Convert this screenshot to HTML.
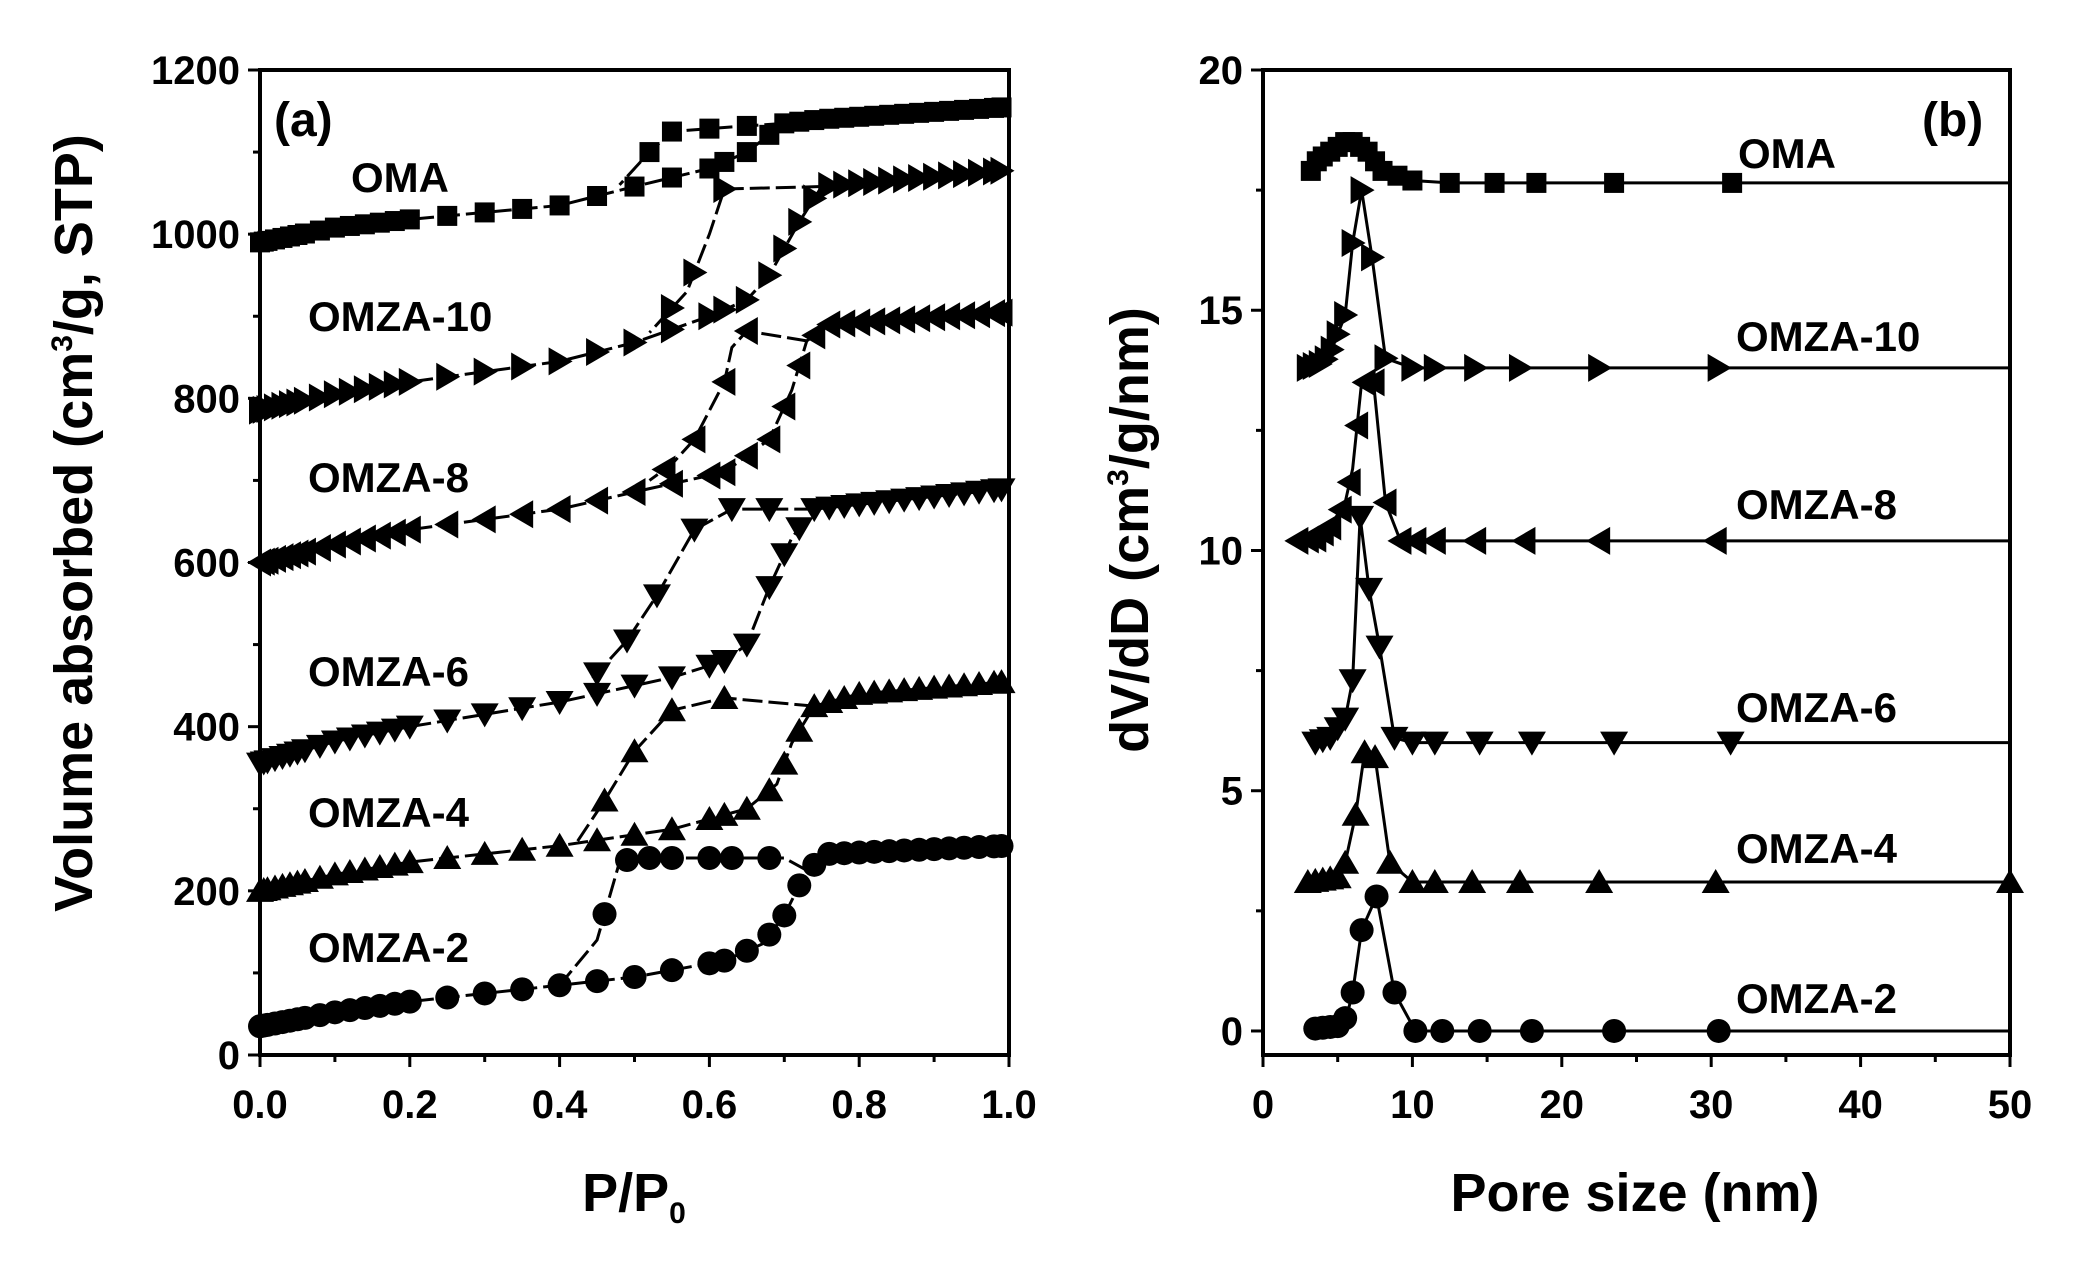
<!DOCTYPE html>
<html><head><meta charset="utf-8"><style>
html,body{margin:0;padding:0;background:#fff;}
svg{display:block;}
text{font-family:"Liberation Sans",Arial,sans-serif;font-weight:bold;fill:#000;}
</style></head><body>
<svg id="s" width="2076" height="1264" viewBox="0 0 2076 1264" xmlns="http://www.w3.org/2000/svg">
<g font-size="42">
<text x="351" y="192">OMA</text>
<text x="308" y="331">OMZA-10</text>
<text x="308" y="492">OMZA-8</text>
<text x="308" y="686">OMZA-6</text>
<text x="308" y="827">OMZA-4</text>
<text x="308" y="962">OMZA-2</text>
<text x="1738" y="168">OMA</text>
<text x="1736" y="351">OMZA-10</text>
<text x="1736" y="519">OMZA-8</text>
<text x="1736" y="722">OMZA-6</text>
<text x="1736" y="863">OMZA-4</text>
<text x="1736" y="1013">OMZA-2</text>
</g>
<text x="274" y="136" font-size="48">(a)</text>
<text x="1922" y="136" font-size="48">(b)</text>
<text x="634" y="1211" font-size="54" text-anchor="middle">P/P<tspan font-size="30" dy="12">0</tspan></text>
<text x="1635" y="1211" font-size="54" text-anchor="middle">Pore size (nm)</text>
<text transform="translate(92,523) rotate(-90)" font-size="54" text-anchor="middle">Volume absorbed (cm<tspan font-size="30" dy="-20">3</tspan><tspan dy="20">/g, STP)</tspan></text>
<text transform="translate(1148,530) rotate(-90)" font-size="54" text-anchor="middle">dV/dD (cm<tspan font-size="30" dy="-20">3</tspan><tspan dy="20">/g/nm)</tspan></text>
</svg>
<script>
var s=document.getElementById('s'),NS='http://www.w3.org/2000/svg';
function el(t,a){var e=document.createElementNS(NS,t);for(var k in a)e.setAttribute(k,a[k]);s.appendChild(e);return e;}
function txt(x,y,t,anc){var e=el('text',{x:x,y:y,'font-size':40,'text-anchor':anc});e.textContent=t;}
var A={x0:260,x1:1009,y0:1055,y1:70,xmin:0,xmax:1,ymin:0,ymax:1200};
var B={x0:1263,x1:2010,y0:1055,y1:70,xmin:0,xmax:50,ymin:-0.5,ymax:20};
function X(P,v){return P.x0+(v-P.xmin)/(P.xmax-P.xmin)*(P.x1-P.x0);}
function Y(P,v){return P.y0+(v-P.ymin)/(P.ymax-P.ymin)*(P.y1-P.y0);}
function frame(P){el('rect',{x:P.x0,y:P.y1,width:P.x1-P.x0,height:P.y0-P.y1,fill:'none',stroke:'#000','stroke-width':4});}
frame(A);frame(B);
for(var v=0;v<=1200;v+=100){var y=Y(A,v);el('line',{x1:A.x0,x2:A.x0-(v%200?7:12),y1:y,y2:y,stroke:'#000','stroke-width':3});if(v%200==0)txt(240,y+14,String(v),'end');}
for(var i=0;i<=10;i++){var v=i/10,x=X(A,v);el('line',{x1:x,x2:x,y1:A.y0,y2:A.y0+(i%2?7:12),stroke:'#000','stroke-width':3});if(i%2==0)txt(x,1118,v.toFixed(1),'middle');}
for(var v=0;v<=20;v+=2.5){var y=Y(B,v);el('line',{x1:B.x0,x2:B.x0-(v%5?7:12),y1:y,y2:y,stroke:'#000','stroke-width':3});if(v%5==0)txt(1243,y+14,String(v),'end');}
for(var v=0;v<=50;v+=5){var x=X(B,v);el('line',{x1:x,x2:x,y1:B.y0,y2:B.y0+(v%10?7:12),stroke:'#000','stroke-width':3});if(v%10==0)txt(x,1118,String(v),'middle');}
function mk(t,x,y){var r=13;
 if(t=='sq')el('rect',{x:x-10,y:y-10,width:20,height:20});
 else if(t=='ci')el('circle',{cx:x,cy:y,r:12});
 else {var p;
  if(t=='up')p=[[x,y-r],[x+r+1,y+r-2],[x-r-1,y+r-2]];
  if(t=='dn')p=[[x,y+r],[x+r+1,y-r+2],[x-r-1,y-r+2]];
  if(t=='rt')p=[[x+r,y],[x-r+2,y-r-1],[x-r+2,y+r+1]];
  if(t=='lt')p=[[x-r,y],[x+r-2,y-r-1],[x+r-2,y+r+1]];
  el('polygon',{points:p.map(function(q){return q.join(',')}).join(' ')});}}
function interp(pts0,x){var pts=pts0.slice().sort(function(a,b){return a[0]-b[0];});
 if(x<=pts[0][0])return pts[0][1];
 for(var i=0;i<pts.length-1;i++){if(x<=pts[i+1][0]){var a=pts[i],b=pts[i+1];return a[1]+(b[1]-a[1])*(x-a[0])/(b[0]-a[0]);}}return pts[pts.length-1][1];}
function series(P,pts,t,xs,dash){var d=pts.map(function(p){return X(P,p[0])+','+Y(P,p[1])}).join(' ');
 el('polyline',{points:d,fill:'none',stroke:'#000','stroke-width':3,'stroke-dasharray':dash||'none'});
 xs.forEach(function(x){mk(t,X(P,x),Y(P,interp(pts,x)));});}
var adsX=[0,0.005,0.01,0.02,0.03,0.04,0.05,0.06,0.08,0.1,0.12,0.14,0.16,0.18,0.2,0.25,0.3,0.35,0.4,0.45,0.5,0.55,0.6,0.62,0.65,0.68,0.7,0.72,0.74,0.76,0.78,0.8,0.82,0.84,0.86,0.88,0.9,0.92,0.94,0.96,0.98,0.99];
function A_(ads,des,t,dx){series(A,ads,t,adsX,'20,6');series(A,des,t,dx,'20,6');}
A_([[0,990],[0.1,1008],[0.2,1018],[0.4,1035],[0.5,1058],[0.6,1080],[0.65,1100],[0.7,1135],[0.75,1140],[1,1155]],
   [[0.7,1135],[0.62,1130],[0.55,1125],[0.52,1100],[0.48,1060]],'sq',[0.65,0.6,0.55,0.52]);
A_([[0,785],[0.1,805],[0.2,820],[0.4,845],[0.5,868],[0.6,900],[0.65,920],[0.68,950],[0.72,1015],[0.75,1058],[0.8,1062],[1,1078]],
   [[0.75,1058],[0.62,1055],[0.6,1000],[0.57,930],[0.52,880]],'rt',[0.62,0.58,0.55]);
A_([[0,600],[0.1,622],[0.2,640],[0.4,665],[0.52,690],[0.62,710],[0.68,750],[0.71,810],[0.73,870],[0.76,890],[1,905]],
   [[0.73,870],[0.65,882],[0.63,862],[0.62,820],[0.58,750],[0.55,720],[0.52,700]],'lt',[0.65,0.62,0.58,0.54]);
A_([[0,355],[0.1,382],[0.2,400],[0.4,430],[0.55,460],[0.62,480],[0.65,500],[0.68,570],[0.71,630],[0.74,665],[1,690]],
   [[0.74,665],[0.63,665],[0.58,640],[0.53,560],[0.49,505],[0.44,455]],'dn',[0.68,0.63,0.58,0.53,0.49,0.45]);
A_([[0,200],[0.1,220],[0.2,235],[0.4,255],[0.55,275],[0.65,300],[0.69,330],[0.71,380],[0.74,425],[0.8,440],[1,455]],
   [[0.74,425],[0.62,435],[0.55,420],[0.5,370],[0.46,310],[0.42,255]],'up',[0.62,0.55,0.5,0.46]);
A_([[0,35],[0.1,52],[0.2,65],[0.4,85],[0.5,95],[0.62,115],[0.67,135],[0.7,170],[0.73,225],[0.76,245],[1,255]],
   [[0.73,225],[0.7,240],[0.5,240],[0.48,235],[0.45,140],[0.4,85]],'ci',[0.68,0.63,0.6,0.55,0.52,0.49,0.46]);
function Bs(pts,t,xs){series(B,pts,t,xs);}
Bs([[3.2,17.9],[3.6,18.1],[4,18.2],[4.5,18.3],[5,18.4],[5.5,18.5],[6,18.5],[6.5,18.4],[7,18.3],[7.5,18.1],[8,17.9],[9,17.8],[10,17.7],[12.5,17.65],[50,17.65]],'sq',[3.2,3.6,4,4.5,5,5.5,6,6.5,7,7.5,8,9,10,12.5,15.5,18.3,23.5,31.4]);
Bs([[3,13.8],[4,13.9],[4.5,14.1],[5,14.5],[5.5,14.9],[6,16.4],[6.6,17.5],[7.3,16.1],[8.2,14],[10,13.8],[50,13.8]],'rt',[3,3.4,3.8,4.2,4.6,5,5.5,6,6.6,7.3,8.2,10,11.5,14.2,17.2,22.5,30.5]);
Bs([[2.3,10.2],[3.5,10.25],[4.5,10.5],[5.5,11],[6,11.7],[6.6,13.5],[7.4,13.5],[8.2,11],[9.2,10.2],[50,10.2]],'lt',[2.3,3,3.5,4,4.5,5.2,5.8,6.3,6.8,7.4,8.2,9.2,10.2,11.5,14.2,17.5,22.5,30.3]);
Bs([[3.5,6],[4.5,6.1],[5.5,6.5],[6,7.3],[6.5,10.7],[7.1,9.2],[7.8,8],[8.8,6.1],[10,6],[50,6]],'dn',[3.5,4,4.5,5,5.5,6,6.5,7.1,7.8,8.8,10,11.5,14.5,18,23.5,31.3]);
Bs([[3,3.1],[5,3.2],[5.5,3.5],[6.2,4.5],[6.8,5.8],[7.5,5.7],[8.5,3.5],[10,3.1],[50,3.1]],'up',[3,3.5,4,4.5,5,5.5,6.2,6.8,7.5,8.5,10,11.5,14,17.2,22.5,30.3,50]);
Bs([[3.5,0.05],[5,0.1],[5.6,0.3],[6,0.8],[6.6,2.1],[7.6,2.8],[8.8,0.8],[10.2,0],[50,0]],'ci',[3.5,4,4.5,5,5.5,6,6.6,7.6,8.8,10.2,12,14.5,18,23.5,30.5]);
</script>
</body></html>
